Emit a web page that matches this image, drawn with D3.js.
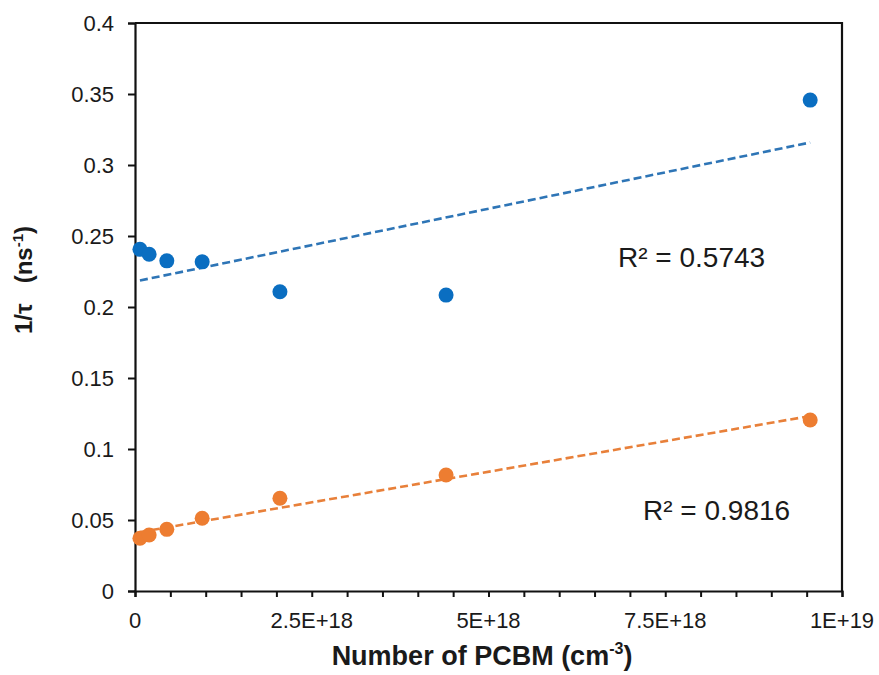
<!DOCTYPE html>
<html>
<head>
<meta charset="utf-8">
<script src="https://cdn.jsdelivr.net/npm/d3@7"></script>
<style>
  html, body { margin: 0; padding: 0; background: #fff; }
  svg text { font-family: "Liberation Sans", Arial, sans-serif; fill: #1a1a1a; }
</style>
</head>
<body>
<svg id="chart" width="879" height="675"></svg>
<script>
// PCBM concentration (cm^-3) for each sample
const pcbm = [7e16, 2e17, 4.5e17, 9.5e17, 2.05e18, 4.4e18, 9.55e18];
// Inverse lifetimes 1/τ (ns^-1) for the two decay components
const fastRate = [0.2406, 0.2371, 0.2325, 0.2318, 0.2107, 0.2084, 0.3457];
const slowRate = [0.0371, 0.0394, 0.0434, 0.0512, 0.0653, 0.0817, 0.1204];
const seriesColors = ["#0A6EC1", "#ED7D31"];
const trendColors = ["#2E75B6", "#E8803A"];
const r2Labels = ["R² = 0.5743", "R² = 0.9816"];
const xTicks = [0, 2.5e18, 5e18, 7.5e18, 1e19];
const xTickLabels = ["0", "2.5E+18", "5E+18", "7.5E+18", "1E+19"];
const yTicks = [0, 0.05, 0.1, 0.15, 0.2, 0.25, 0.3, 0.35, 0.4];
const yTickLabels = ["0", "0.05", "0.1", "0.15", "0.2", "0.25", "0.3", "0.35", "0.4"];

const svg = d3.select("#chart");
const plot = { left: 135, right: 842, top: 23, bottom: 591 };

const x = d3.scaleLinear().domain([0, 1e19]).range([plot.left, plot.right]);
const y = d3.scaleLinear().domain([0, 0.4]).range([plot.bottom, plot.top]);

// Least-squares line through one series
function fit(xs, ys) {
  const mx = d3.mean(xs), my = d3.mean(ys);
  let sxy = 0, sxx = 0;
  xs.forEach((v, i) => { sxy += (v - mx) * (ys[i] - my); sxx += (v - mx) ** 2; });
  const slope = sxy / sxx;
  return v => my + slope * (v - mx);
}

// Frame: top and right edges
svg.append("path")
  .attr("d", `M${plot.left},${plot.top}H${plot.right}V${plot.bottom}`)
  .attr("fill", "none").attr("stroke", "#111").attr("stroke-width", 2.2);

// Y axis
const yAxis = svg.append("g").attr("transform", `translate(${plot.left},0)`)
  .call(d3.axisLeft(y).tickValues(yTicks).tickSize(7).tickFormat((d, i) => yTickLabels[i]).tickPadding(14));
yAxis.select(".domain").attr("stroke", "#111").attr("stroke-width", 2.2);
yAxis.selectAll(".tick line").attr("stroke", "#111").attr("stroke-width", 2);
yAxis.selectAll(".tick text").attr("font-size", 22).attr("fill", "#1a1a1a")
  .attr("font-family", "Liberation Sans, Arial, sans-serif");

// X axis: minor ticks every 5E+17, labels at 2.5E+18
const xMinor = d3.range(0, 21).map(i => i * 5e17);
const xAxis = svg.append("g").attr("transform", `translate(0,${plot.bottom})`)
  .call(d3.axisBottom(x).tickValues(xMinor).tickSize(6).tickFormat(""));
xAxis.select(".domain").attr("stroke", "#111").attr("stroke-width", 2.2);
xAxis.selectAll(".tick line").attr("stroke", "#111").attr("stroke-width", 2);

svg.append("g").selectAll("text").data(xTicks).join("text")
  .attr("x", d => x(d)).attr("y", plot.bottom + 37)
  .attr("text-anchor", "middle").attr("font-size", 22)
  .text((d, i) => xTickLabels[i]);

// Trendlines over the measured range
const series = [fastRate, slowRate];
const xr = d3.extent(pcbm);
series.forEach((ys, k) => {
  const f = fit(pcbm, ys);
  svg.append("line")
    .attr("x1", x(xr[0])).attr("y1", y(f(xr[0])))
    .attr("x2", x(xr[1])).attr("y2", y(f(xr[1])))
    .attr("stroke", trendColors[k]).attr("stroke-width", 2.6)
    .attr("stroke-dasharray", "8,4");
});

// Data markers
series.forEach((ys, k) => {
  svg.append("g").selectAll("circle").data(pcbm).join("circle")
    .attr("cx", d => x(d)).attr("cy", (d, i) => y(ys[i]))
    .attr("r", 7.5).attr("fill", seriesColors[k]);
});

// R² annotations
svg.append("text").attr("x", 618).attr("y", 267).attr("font-size", 28).text(r2Labels[0]);
svg.append("text").attr("x", 643).attr("y", 520).attr("font-size", 28).text(r2Labels[1]);

// Axis titles
const xt = svg.append("text").attr("x", 482).attr("y", 665)
  .attr("text-anchor", "middle").attr("font-size", 27).attr("font-weight", "bold");
xt.append("tspan").text("Number of PCBM (cm");
xt.append("tspan").attr("font-size", 16).attr("dy", -11).text("-3");
xt.append("tspan").attr("dy", 11).text(")");

const yt = svg.append("text").attr("transform", "translate(32,280) rotate(-90)")
  .attr("text-anchor", "middle").attr("font-size", 24).attr("font-weight", "bold")
  .attr("xml:space", "preserve");
yt.append("tspan").text("1/τ   (ns");
yt.append("tspan").attr("font-size", 15).attr("dy", -9).text("-1");
yt.append("tspan").attr("dy", 9).text(")");
</script>
</body>
</html>
